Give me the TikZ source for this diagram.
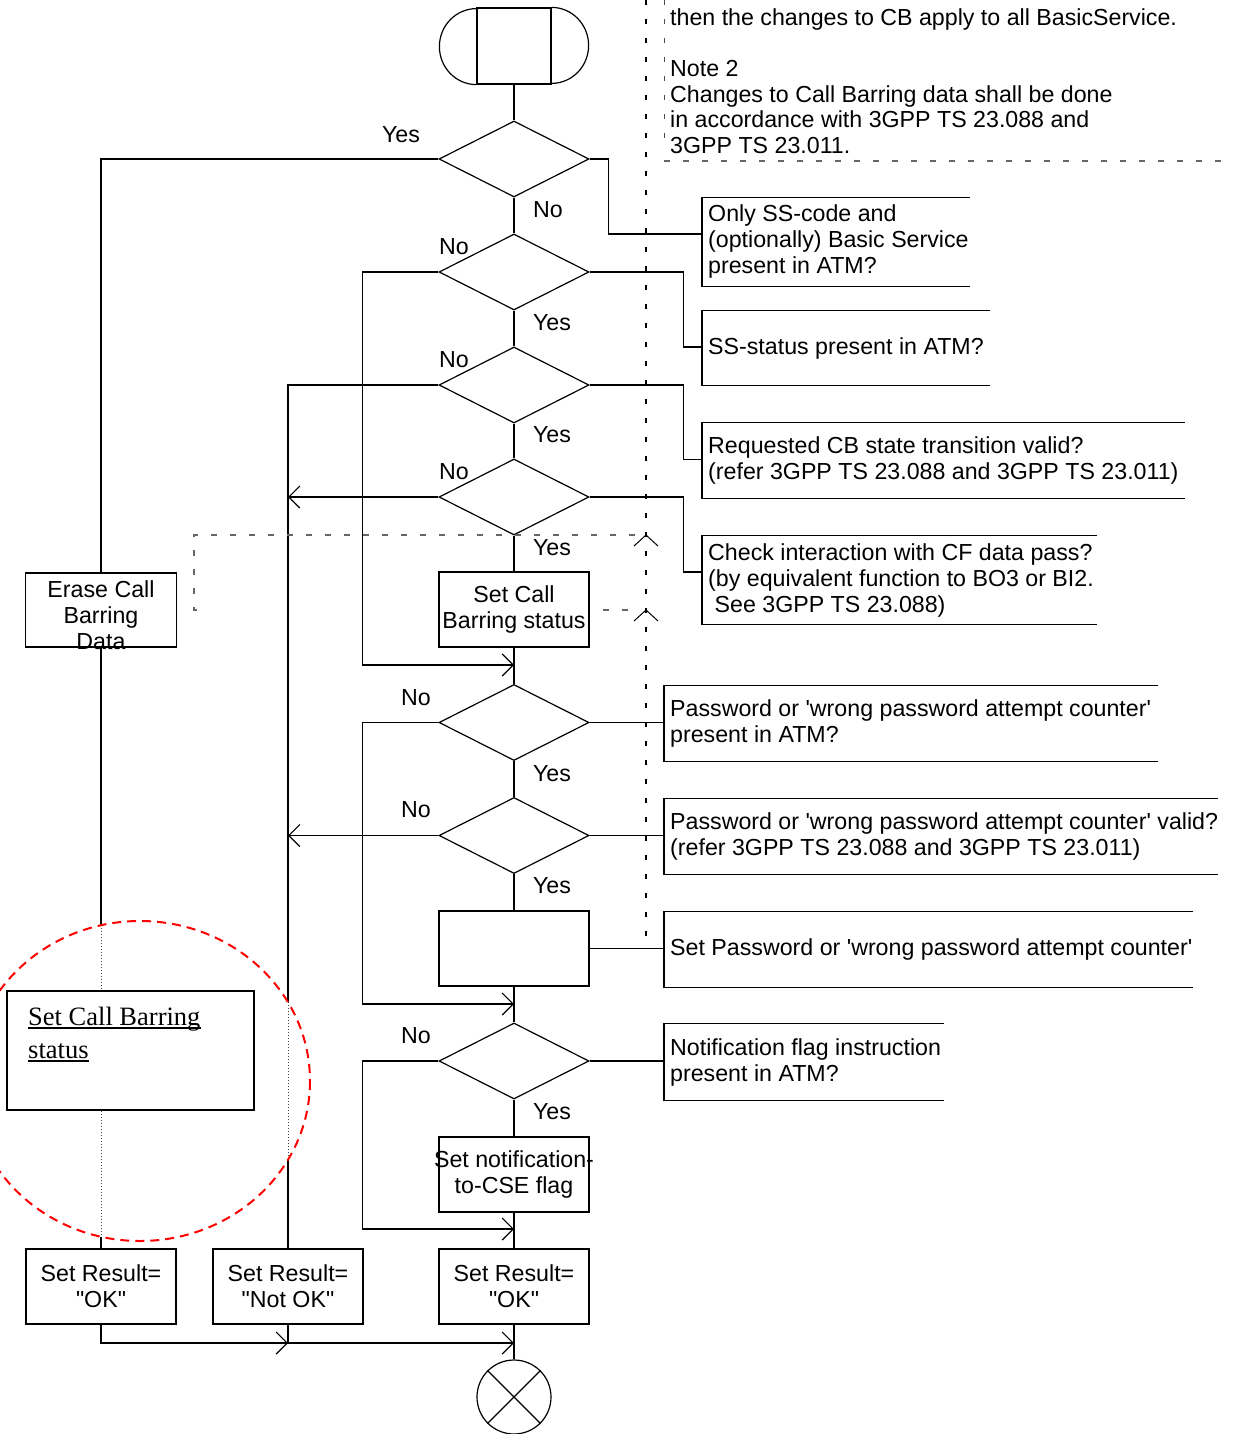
\documentclass[tikz,border=0pt]{standalone}
\usepackage{fontspec}
\setmainfont{Liberation Sans}
\newfontfamily\serifface{Liberation Serif}
\usetikzlibrary{shapes.geometric,arrows.meta,calc}

% annotation box open on the right: name, x, y-centre, width, height, text
\newcommand\annotbox[6]{%
  \node[anchor=west, inner xsep=6pt, inner ysep=0pt, minimum height=#5pt, align=left] (#1) at (#2,#3) {#6};
  \draw[ln] ($(#1.north west)+(#4,0)$) -- (#1.north west) -- (#1.south west) -- ($(#1.south west)+(#4,0)$);
}

\begin{document}
\begin{tikzpicture}[x=1pt,y=-1pt,
  every node/.style={inner sep=0pt, font=\fontsize{23.2}{26}\selectfont},
  ln/.style={line width=1.2pt},
  arr/.style={ln, -{Straight Barb[length=11pt,width=22pt]}},
  decision/.style={diamond, draw, ln, minimum width=150pt, minimum height=76pt},
  procbox/.style={rectangle, draw, ln, minimum width=150pt, minimum height=75pt, align=center},
  lbl/.style={text height=16.6pt, text depth=4.8pt},
  notedash/.style={line width=1.6pt, dash pattern=on 5pt off 14pt},
  greydash/.style={line width=1.1pt, draw=black!60, dash pattern=on 6pt off 13pt},
  dotseg/.style={line width=1pt, draw=black!75, dash pattern=on 1pt off 2pt},
]
\useasboundingbox (0,0) rectangle (1232,1434);

% ---------- note area ----------
\draw[notedash] (646,0) -- (646,948);
\draw[notedash, line width=1pt, draw=black!70] (664,0) -- (664,152);
\draw[greydash] (664,161) -- (1232,161);
\node[anchor=west, align=left, font=\fontsize{23.2}{25.6}\selectfont] (note) at (670,81) {then the changes to CB apply to all BasicService.\\ \mbox{}\\ Note 2\\ Changes to Call Barring data shall be done\\ in accordance with 3GPP TS 23.088 and\\ 3GPP TS 23.011.};

% ---------- main column ----------
\node[draw, ln, minimum width=74pt, minimum height=76pt] (start) at (514,46) {};
\draw[ln] (start.north east) arc[start angle=-90, end angle=90, x radius=37, y radius=38]
          (start.south west) arc[start angle=90, end angle=270, x radius=37, y radius=38];

\node[decision] (d1) at (514,159) {};
\node[decision] (d2) at (514,272) {};
\node[decision] (d3) at (514,385) {};
\node[decision] (d4) at (514,497) {};
\node[procbox] (setcb) at (514,609.5) {Set Call\\Barring status};
\node[decision] (d5) at (514,722.5) {};
\node[decision] (d6) at (514,835.5) {};
\node[procbox] (setpw) at (514,948.5) {};
\node[decision] (d7) at (514,1061) {};
\node[procbox] (setnotif) at (514,1174.5) {\makebox[150pt]{Set notification-}\\to-CSE flag};
\node[procbox] (resok) at (514,1286.5) {Set Result=\\\textquotedbl OK\textquotedbl};
\node[circle, draw, ln, minimum size=74pt] (stop) at (514,1397) {};
\draw[ln] (stop.north west) -- (stop.south east) (stop.north east) -- (stop.south west);

% ---------- left column ----------
\node[procbox, minimum width=151pt, minimum height=74pt] (erase) at (101,610) {};
\node[align=center] (erasetxt) at (101,615) {Erase Call\\Barring\\Data};
\node[procbox] (resok2) at (101,1286.5) {Set Result=\\\textquotedbl OK\textquotedbl};
\node[procbox] (resnok) at (288,1286.5) {Set Result=\\\textquotedbl Not OK\textquotedbl};

% ---------- annotations ----------
\annotbox{n1}{702}{242}{268}{88}{Only SS-code and\\(optionally) Basic Service\\present in ATM?}
\annotbox{n2}{702}{348}{288}{74}{SS-status present in ATM?}
\annotbox{n3}{702}{460.5}{483}{75}{Requested CB state transition valid?\\(refer 3GPP TS 23.088 and 3GPP TS 23.011)}
\annotbox{n4}{702}{580}{395}{88}{Check interaction with CF data pass?\\(by equivalent function to BO3 or BI2.\\ \ See 3GPP TS 23.088)}
\annotbox{n5}{664}{723.5}{494}{75}{Password or \textquotesingle wrong password attempt counter\textquotesingle\\present in ATM?}
\annotbox{n6}{664}{836.5}{554}{75}{Password or \textquotesingle wrong password attempt counter\textquotesingle{} valid?\\(refer 3GPP TS 23.088 and 3GPP TS 23.011)}
\annotbox{n7}{664}{949.5}{529}{75}{Set Password or \textquotesingle wrong password attempt counter\textquotesingle}
\annotbox{n8}{664}{1062}{280}{76}{Notification flag instruction\\present in ATM?}

% ---------- junction points ----------
\coordinate (j1) at (514,665);
\coordinate (j2) at (514,1004);
\coordinate (j3) at (514,1229);
\coordinate (j4) at (288,1343);
\coordinate (j5) at (514,1343);
\coordinate (e1) at (101,925);
\coordinate (e2) at (101,1237);
\coordinate (r1) at (288,1002);
\coordinate (r2) at (288,1160);

% ---------- connectors ----------
\draw[ln] (start.south) -- (d1.north);
\draw[ln] (d1.west) -| (erase.north);
\draw[ln] (d1.south) -- (d2.north);
\draw[ln] (d2.south) -- (d3.north);
\draw[ln] (d3.south) -- (d4.north);
\draw[ln] (d4.south) -- (setcb.north);
\draw[ln] (setcb.south) -- (d5.north);
\draw[ln] (d5.south) -- (d6.north);
\draw[ln] (d6.south) -- (setpw.north);
\draw[ln] (setpw.south) -- (d7.north);
\draw[ln] (d7.south) -- (setnotif.north);
\draw[ln] (setnotif.south) -- (resok.north);
\draw[ln] (resok.south) -- (stop.north);

\draw[arr] (d2.west) -- ++(-76,0) |- (j1);
\draw[arr] (d5.west) -- ++(-76,0) |- (j2);
\draw[arr] (d7.west) -- ++(-76,0) |- (j3);

\draw[ln] (d3.west) -| (r1);
\draw[dotseg] (r1) -- (r2);
\draw[ln] (r2) -- (resnok.north);
\draw[arr] (d4.west) -- (d4.west -| resnok.north);
\draw[arr] (d6.west) -- (d6.west -| resnok.north);

\draw[ln] (erase.south) -- (e1);
\draw[dotseg] (e1) -- (e2);
\draw[ln] (e2) -- (resok2.north);

\draw[arr] (resok2.south) |- (j4);
\draw[arr] (resnok.south) |- (j5);

% annotation links
\draw[ln] (d1.east) -- ++(19,0) |- ($(n1.west)+(0,-8)$);
\draw[ln] (d2.east) -- ++(94,0) |- ($(n2.west)+(0,-1)$);
\draw[ln] (d3.east) -- ++(94,0) |- ($(n3.west)+(0,-1)$);
\draw[ln] (d4.east) -- ++(94,0) |- ($(n4.west)+(0,-8)$);
\draw[ln] (d5.east) -- (d5.east -| n5.west);
\draw[ln] (d6.east) -- (d6.east -| n6.west);
\draw[ln] (setpw.east) -- (setpw.east -| n7.west);
\draw[ln] (d7.east) -- (d7.east -| n8.west);

% ---------- branch labels ----------
\node[lbl] (y1) at (401,137) {Yes};
\node[lbl] (n1l) at (548,212) {No};
\node[lbl] (n2l) at (454,249) {No};
\node[lbl] (y2) at (552,325) {Yes};
\node[lbl] (n3l) at (454,362) {No};
\node[lbl] (y3) at (552,437) {Yes};
\node[lbl] (n4l) at (454,474) {No};
\node[lbl] (y4) at (552,550) {Yes};
\node[lbl] (n5l) at (416,700) {No};
\node[lbl] (y5) at (552,776) {Yes};
\node[lbl] (n6l) at (416,812) {No};
\node[lbl] (y6) at (552,888) {Yes};
\node[lbl] (n7l) at (416,1038) {No};
\node[lbl] (y7) at (552,1114) {Yes};

% ---------- dashed guide lines ----------
\draw[greydash] (197,610) -- (194,610) -- (194,535) -- (640,535);
\draw[greydash] (603,610) -- (640,610);
\draw[line width=1pt] (634,546) -- (646,535) -- (658,546);
\draw[line width=1pt] (634,621) -- (646,610) -- (658,621);

% ---------- highlighted sub-process ----------
\node[draw, fill=white, line width=2.5pt, minimum width=247pt, minimum height=119pt] (sbox) at (130.5,1050.5) {};
\node[anchor=base west, font=\serifface\fontsize{26.5}{33}\selectfont] (st1) at (28,1025) {Set Call Barring};
\node[anchor=base west, font=\serifface\fontsize{26.5}{33}\selectfont] (st2) at (28,1058) {status};
\draw[line width=1.5pt] ($(st1.base west)+(0,3)$) -- ($(st1.base east)+(0,3)$);
\draw[line width=1.5pt] ($(st2.base west)+(0,3)$) -- ($(st2.base east)+(0,3)$);
\draw[red, line width=2pt, dash pattern=on 9pt off 6pt] (140,1081) ellipse [x radius=170, y radius=160];

\end{tikzpicture}
\end{document}
